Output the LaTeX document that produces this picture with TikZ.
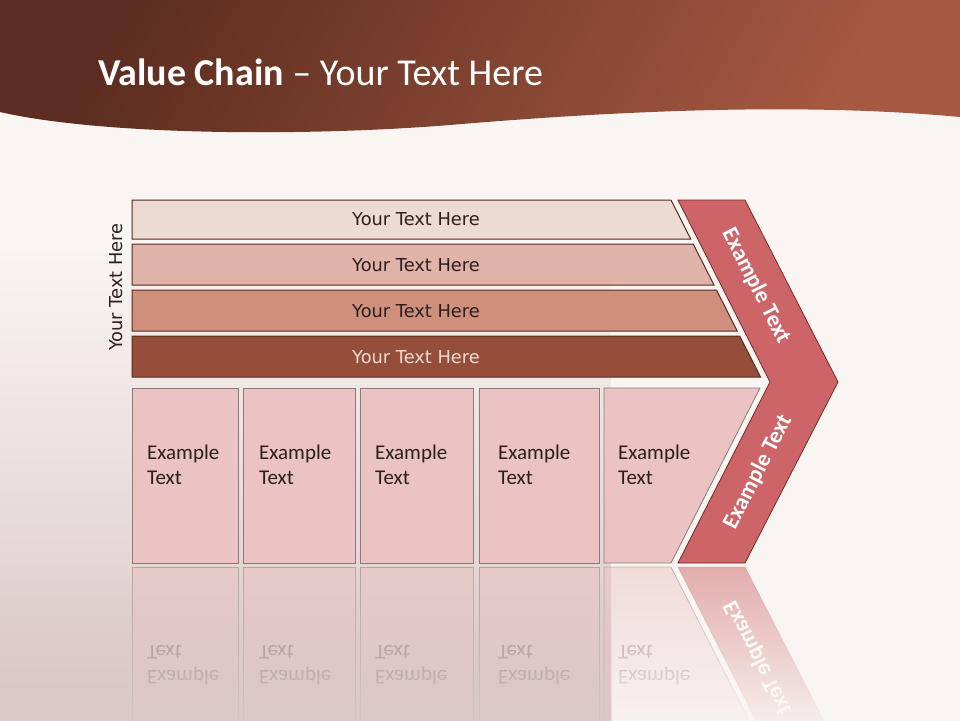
\documentclass[tikz,border=0pt]{standalone}
\usepackage{fontspec}
\setmainfont{Carlito}
\newfontfamily\barfont{DejaVu Sans}
\usepackage{xcolor}
\definecolor{vcbg}{RGB}{249,245,242}
\definecolor{vchead}{RGB}{92,45,32}
\definecolor{vcheadlt}{RGB}{166,88,66}
\definecolor{vcmist}{RGB}{218,200,198}
\definecolor{vcbarA}{RGB}{237,218,211}
\definecolor{vcbarB}{RGB}{223,179,167}
\definecolor{vcbarC}{RGB}{206,143,124}
\definecolor{vcbarD}{RGB}{149,78,58}
\definecolor{vcline}{RGB}{90,40,30}
\definecolor{vcbox}{RGB}{235,195,195}
\definecolor{vcboxline}{RGB}{138,122,122}
\definecolor{vcchev}{RGB}{205,100,103}
\definecolor{vcchevline}{RGB}{120,40,40}
\definecolor{vctext}{RGB}{45,30,30}
\usetikzlibrary{fadings}

\begin{document}
\begin{tikzpicture}[x=1pt, y=-1pt,
  bar/.style={draw=vcline, line width=1pt},
  bartext/.style={font=\barfont\fontsize{17.8}{20}\selectfont, text=vctext},
  box/.style={fill=vcbox, draw=vcboxline, line width=0.8pt},
  boxtext/.style={font=\fontsize{21}{25}\selectfont, text=vctext, align=left,
    anchor=north west, inner sep=0pt},
  chev/.style={fill=vcchev, draw=vcchevline, line width=0.8pt},
  chevtext/.style={font=\bfseries\fontsize{23}{26}\selectfont, text=white}]
  \useasboundingbox (0,0) rectangle (960,720);

  % Background
  \fill[vcbg] (0,0) rectangle (960,720);
  \fill[vcmist, path fading=north] (0,250) rectangle (612,720);

  % Header band
  \shade[top color=vchead, bottom color=vcheadlt, shading angle=60]
    (0,0) -- (960,0) -- (960,117) .. controls (820,104) and (650,108) .. (450,125)
    .. controls (300,137) and (100,135) .. (0,112) -- cycle;
  \node[anchor=base west, inner sep=0pt, text=white, font=\fontsize{38}{42}\selectfont]
    (title) at (98,85) {\textbf{Value Chain} \textendash{} Your Text Here};

  % --- Support bars ---
  \draw[bar, fill=vcbarA] (132,200) -- (671,200) -- (690.7,239) -- (132,239) -- cycle;
  \draw[bar, fill=vcbarB] (132,244) -- (693.2,244) -- (714,285) -- (132,285) -- cycle;
  \draw[bar, fill=vcbarC] (132,290) -- (716.5,290) -- (737.2,331) -- (132,331) -- cycle;
  \draw[bar, fill=vcbarD] (132,336) -- (739.7,336) -- (760.5,377) -- (132,377) -- cycle;
  \node[bartext] (bar1) at (416,219) {Your Text Here};
  \node[bartext] (bar2) at (416,265) {Your Text Here};
  \node[bartext] (bar3) at (416,311) {Your Text Here};
  \node[bartext, text=vcbarA] (bar4) at (416,357) {Your Text Here};
  \node[bartext, rotate=90] (side) at (116,287) {Your Text Here};

  % --- Primary boxes ---
  \foreach \l/\r/\t [count=\i] in {132/238/147, 243/355/259, 360/473/375, 479/599/498} {
    \draw[box] (\l,388) rectangle (\r,563);
    \node[boxtext] (ex\i) at (\t,445) {Example\\Text};
  }
  \draw[box] (604,388) -- (760,388) -- (671,563) -- (604,563) -- cycle;
  \node[boxtext] (ex5) at (618,445) {Example\\Text};

  % --- Chevron ---
  \draw[chev] (678,200) -- (745,200) -- (838,382) -- (745,563) -- (678,563) -- (770,382) -- cycle;
  \node[chevtext, rotate=-63] (chevup) at (756,286) {Example Text};
  \node[chevtext, rotate=63] (chevlow) at (758,472) {Example Text};

  % --- Reflection ---
  \begin{scope}[cm={1,0,0,-1,(0,1130)}, transform shape]
    \foreach \l/\r/\t [count=\i] in {132/238/147, 243/355/259, 360/473/375, 479/599/498} {
      \draw[box, opacity=0.5] (\l,388) rectangle (\r,563);
      \node[boxtext, opacity=0.4] (rex\i) at (\t,445) {Example\\Text};
    }
    \draw[box, opacity=0.5] (604,388) -- (760,388) -- (671,563) -- (604,563) -- cycle;
    \node[boxtext, opacity=0.4] (rex5) at (618,445) {Example\\Text};
    \draw[chev, draw opacity=0.15, fill opacity=0.5] (678,563) -- (745,563) -- (838,382) -- (770,382) -- cycle;
    \node[chevtext, rotate=63] (rchevlow) at (758,472) {Example Text};
  \end{scope}
  \fill[vcmist, path fading=north] (0,566) rectangle (612,740);
  \fill[vcbg, path fading=north] (612,566) rectangle (960,740);
\end{tikzpicture}
\end{document}
